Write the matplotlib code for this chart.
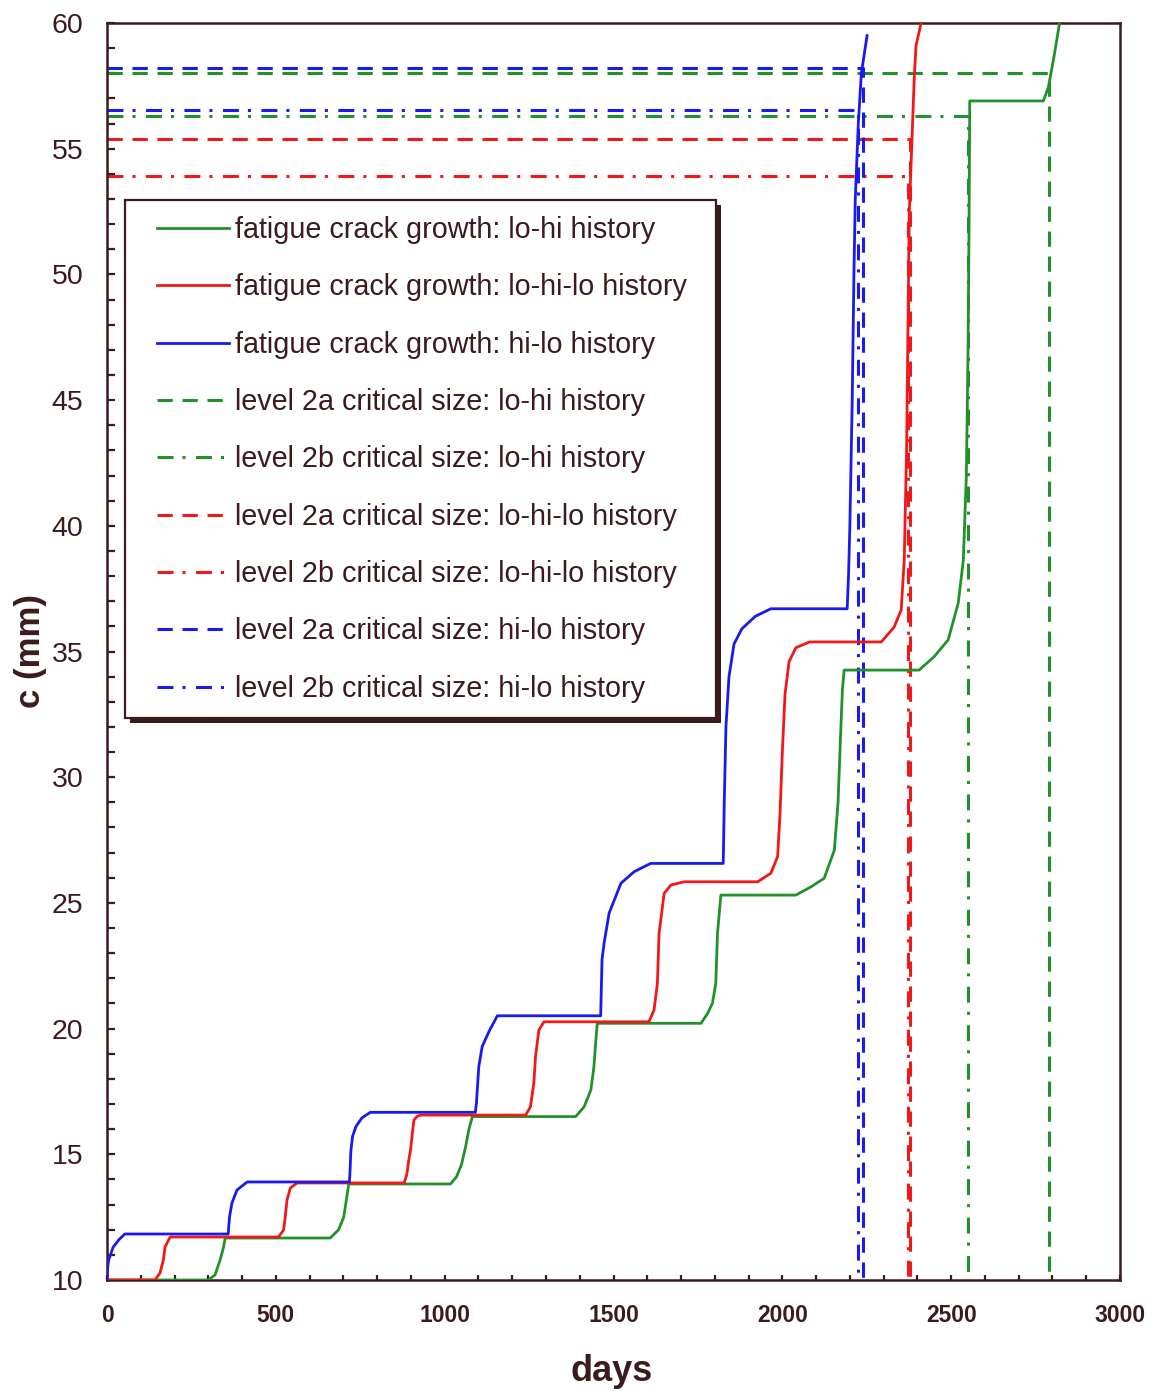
import matplotlib
matplotlib.use("Agg")
import matplotlib.pyplot as plt
from matplotlib.ticker import MultipleLocator
from matplotlib.patches import Rectangle

plt.rcParams['font.family'] = ['Liberation Sans', 'DejaVu Sans']
plt.rcParams['lines.scale_dashes'] = False

# ---- fatigue crack growth curves: (days, c [mm]) ----
lohi_days = [0, 300, 320, 335, 345, 350, 661, 686, 701, 709, 716, 1017, 1035, 1050, 1062, 1072, 1082,
             1388, 1413, 1433, 1442, 1447, 1452, 1759, 1779, 1793, 1803, 1808, 1818, 2040, 2085, 2124,
             2154, 2165, 2172, 2178, 2183, 2405, 2450, 2491, 2521, 2536, 2545, 2550, 2553, 2555,
             2773, 2788, 2805, 2821]
lohi_c = [10, 10, 10.2, 10.8, 11.3, 11.67, 11.67, 12.0, 12.5, 13.2, 13.82, 13.82, 14.1, 14.6, 15.3, 16.0, 16.5,
          16.5, 16.89, 17.56, 18.48, 19.42, 20.21, 20.21, 20.61, 21.01, 21.8, 23.79, 25.31, 25.31, 25.64, 25.98,
          27.1, 29.0, 31.5, 33.5, 34.26, 34.26, 34.8, 35.46, 36.93, 38.64, 42.0, 47.0, 52.0, 56.9,
          56.9, 57.45, 58.7, 60.0]

lohilo_days = [0, 142, 157, 167, 172, 187, 508, 523, 528, 533, 543, 563, 880, 888, 894, 899, 904, 909, 918, 928,
               1240, 1254, 1264, 1269, 1279, 1294, 1605, 1620, 1630, 1635, 1650, 1670, 1709, 1927, 1966, 1986,
               1993, 2000, 2008, 2020, 2040, 2080, 2293, 2331, 2352, 2361, 2368, 2373, 2376, 2391, 2396, 2411]
lohilo_c = [10, 10, 10.28, 10.8, 11.32, 11.71, 11.71, 11.99, 12.52, 13.18, 13.66, 13.86, 13.86, 14.2, 14.8, 15.17,
            15.8, 16.36, 16.5, 16.56, 16.56, 16.89, 17.82, 18.88, 19.94, 20.27, 20.27, 20.74, 21.8, 23.79, 25.38,
            25.71, 25.84, 25.84, 26.18, 26.84, 28.5, 31.0, 33.3, 34.6, 35.15, 35.38, 35.38, 35.97, 36.65, 38.64,
            43.0, 49.0, 52.48, 57.93, 59.1, 60.0]

hilo_days = [0, 1, 5, 18, 35, 53, 359, 361, 363, 370, 385, 415, 718, 720, 722, 727, 737, 755, 780, 1091, 1094,
             1101, 1111, 1131, 1156, 1462, 1466, 1472, 1487, 1522, 1561, 1610, 1825, 1828, 1833, 1842, 1857,
             1880, 1920, 1966, 2192, 2196, 2200, 2207, 2212, 2216, 2225, 2234, 2251]
hilo_c = [10, 10.4, 10.8, 11.3, 11.6, 11.83, 11.83, 12.2, 12.52, 13.06, 13.58, 13.9, 13.9, 14.4, 15.1, 15.7, 16.1,
          16.45, 16.67, 16.67, 17.03, 18.48, 19.28, 19.88, 20.51, 20.51, 22.73, 23.39, 24.59, 25.78, 26.24, 26.57,
          26.57, 29.0, 32.0, 34.0, 35.3, 35.9, 36.4, 36.7, 36.7, 38.0, 40.0, 45.0, 50.0, 53.0, 56.0, 58.0, 59.5]

# ---- critical crack sizes (c [mm]) and the day each is reached ----
crit_2a_lohi, day_2a_lohi = 58.0, 2790
crit_2b_lohi, day_2b_lohi = 56.3, 2551
crit_2a_lohilo, day_2a_lohilo = 55.4, 2378
crit_2b_lohilo, day_2b_lohilo = 53.9, 2372
crit_2a_hilo, day_2a_hilo = 58.2, 2238
crit_2b_hilo, day_2b_hilo = 56.55, 2225

GREEN = '#23912a'
RED = '#f01818'
BLUE = '#1a1aee'
INK = '#3b1b1b'

DASHED = (0, (11, 7))
DASHDOT = (0, (11.5, 6.5, 2.2, 7.5))

fig = plt.figure(figsize=(11.56, 13.91), dpi=100)
ax = fig.add_axes([107 / 1156, 111 / 1391, 1013 / 1156, 1257 / 1391])

curve_lw = 2.0
crit_lw = 2.2

h1, = ax.plot(lohi_days, lohi_c, color=GREEN, lw=curve_lw, zorder=3)
h2, = ax.plot(lohilo_days, lohilo_c, color=RED, lw=curve_lw, zorder=3)
h3, = ax.plot(hilo_days, hilo_c, color=BLUE, lw=curve_lw, zorder=3)


def crit(c, d, color, ls):
    line, = ax.plot([0, d, d], [c, c, 10], color=color, lw=crit_lw, ls=ls, zorder=2)
    return line


h4 = crit(crit_2a_lohi, day_2a_lohi, GREEN, DASHED)
h5 = crit(crit_2b_lohi, day_2b_lohi, GREEN, DASHDOT)
h6 = crit(crit_2a_lohilo, day_2a_lohilo, RED, DASHED)
h7 = crit(crit_2b_lohilo, day_2b_lohilo, RED, DASHDOT)
h8 = crit(crit_2a_hilo, day_2a_hilo, BLUE, DASHED)
h9 = crit(crit_2b_hilo, day_2b_hilo, BLUE, DASHDOT)

ax.set_xlim(0, 3000)
ax.set_ylim(10, 60)
ax.xaxis.set_major_locator(MultipleLocator(500))
ax.xaxis.set_minor_locator(MultipleLocator(100))
ax.yaxis.set_major_locator(MultipleLocator(5))
ax.yaxis.set_minor_locator(MultipleLocator(1))

for s in ax.spines.values():
    s.set_color(INK)
    s.set_linewidth(1.8)

ax.tick_params(axis='x', which='both', direction='in', length=3.5, width=1.6, color=INK,
               labelsize=16.5, labelcolor=INK, pad=17)
ax.tick_params(axis='y', which='both', direction='in', length=6, width=1.6, color=INK,
               labelsize=20.5, labelcolor=INK, pad=17)
for lab in ax.get_xticklabels():
    lab.set_fontweight('bold')

ax.text(0.4985, -0.0724, 'days', transform=ax.transAxes, ha='center', va='center',
        fontsize=26, fontweight='bold', color=INK)
ax.text(-0.076, 0.5, 'c (mm)', transform=ax.transAxes, ha='center', va='center', rotation=90,
        fontsize=25, fontweight='bold', color=INK)

# legend box with a solid drop shadow
bx0, bx1 = (125 - 107) / 1013, (716 - 107) / 1013
by0, by1 = (1280 - 718) / 1257, (1280 - 200) / 1257
ax.add_patch(Rectangle((bx0 + 5 / 1013, by0 - 5 / 1257), bx1 - bx0, by1 - by0, transform=ax.transAxes,
                       facecolor=INK, edgecolor='none', zorder=4, clip_on=False))
ax.add_patch(Rectangle((bx0, by0), bx1 - bx0, by1 - by0, transform=ax.transAxes,
                       facecolor='white', edgecolor=INK, lw=1.6, zorder=4.5, clip_on=False))

labels = [
    'fatigue crack growth: lo-hi history',
    'fatigue crack growth: lo-hi-lo history',
    'fatigue crack growth: hi-lo history',
    'level 2a critical size: lo-hi history',
    'level 2b critical size: lo-hi history',
    'level 2a critical size: lo-hi-lo history',
    'level 2b critical size: lo-hi-lo history',
    'level 2a critical size: hi-lo history',
    'level 2b critical size: hi-lo history',
]
leg = ax.legend([h1, h2, h3, h4, h5, h6, h7, h8, h9], labels, loc='upper left',
                bbox_to_anchor=((157 - 107) / 1013, (1280 - 216) / 1257), borderaxespad=0, borderpad=0,
                frameon=False, fontsize=20.7, handlelength=2.5, handletextpad=0.2, labelspacing=1.02)
leg.set_zorder(5)
for t in leg.get_texts():
    t.set_color(INK)

fig.savefig('out.png', dpi=100, facecolor='white')
